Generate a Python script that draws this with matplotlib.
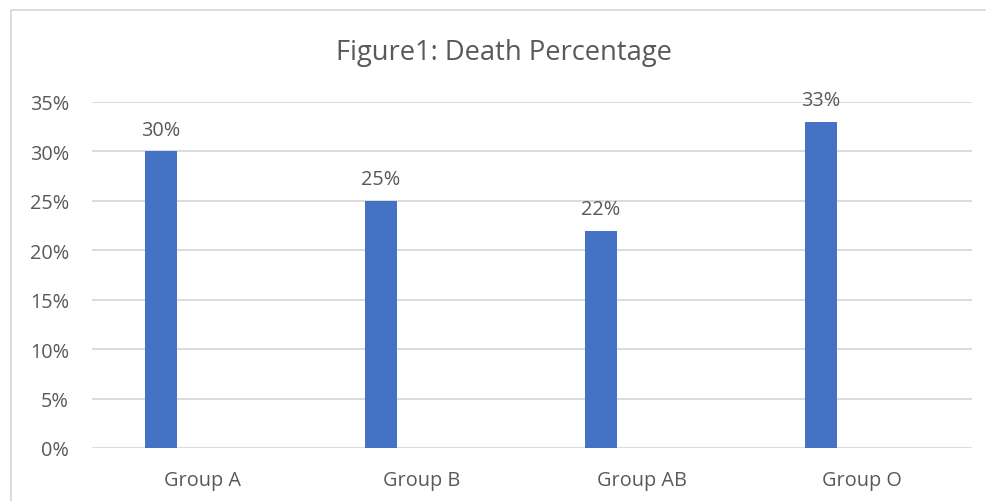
import matplotlib.pyplot as plt
from matplotlib.patches import Rectangle
from matplotlib.ticker import FuncFormatter, MultipleLocator
import numpy as np

groups = ["Group A", "Group B", "Group AB", "Group O"]
death_pct = [30, 25, 22, 33]

text_grey = "#595959"
grid_grey = "#d9d9d9"
bar_blue = "#4472c4"

plt.rcParams['font.family'] = ['Open Sans', 'DejaVu Sans']

fig = plt.figure(figsize=(9.87, 5.02), dpi=100)
ax = fig.add_axes([92 / 987, 1 - 449 / 502, 880 / 987, 346 / 502])

x = np.arange(len(groups))
ax.bar(x - 0.186, death_pct, width=0.145, color=bar_blue, zorder=3)

for xi, v in zip(x, death_pct):
    ax.annotate(f"{v}%", (xi - 0.186, v), xytext=(0, 8.5), textcoords="offset points",
                ha="center", va="bottom", fontsize=14.3, color=text_grey)

ax.set_xlim(-0.5, len(groups) - 0.5)
ax.set_ylim(0, 35)
ax.yaxis.set_major_locator(MultipleLocator(5))
ax.yaxis.set_major_formatter(FuncFormatter(lambda v, _: f"{v:.0f}%"))
ax.set_xticks(x)
ax.set_xticklabels(groups)
ax.grid(axis="y", color=grid_grey, linewidth=1.3, zorder=0)
ax.tick_params(length=0, labelsize=14.3, labelcolor=text_grey)
ax.tick_params(axis="x", pad=16)
ax.tick_params(axis="y", pad=16.5)
for s in ax.spines.values():
    s.set_visible(False)

fig.text(504 / 987, 1 - 53 / 502, "Figure1: Death Percentage", ha="center", va="center",
         fontsize=19.7, color=text_grey)

# chart frame, cut off at right and bottom
fig.patches.append(Rectangle((11 / 987, -0.1), 1.2, 1 - 11 / 502 + 0.1,
                             transform=fig.transFigure, fill=False,
                             edgecolor=grid_grey, linewidth=1.3))

fig.savefig("out.png", dpi=100)
